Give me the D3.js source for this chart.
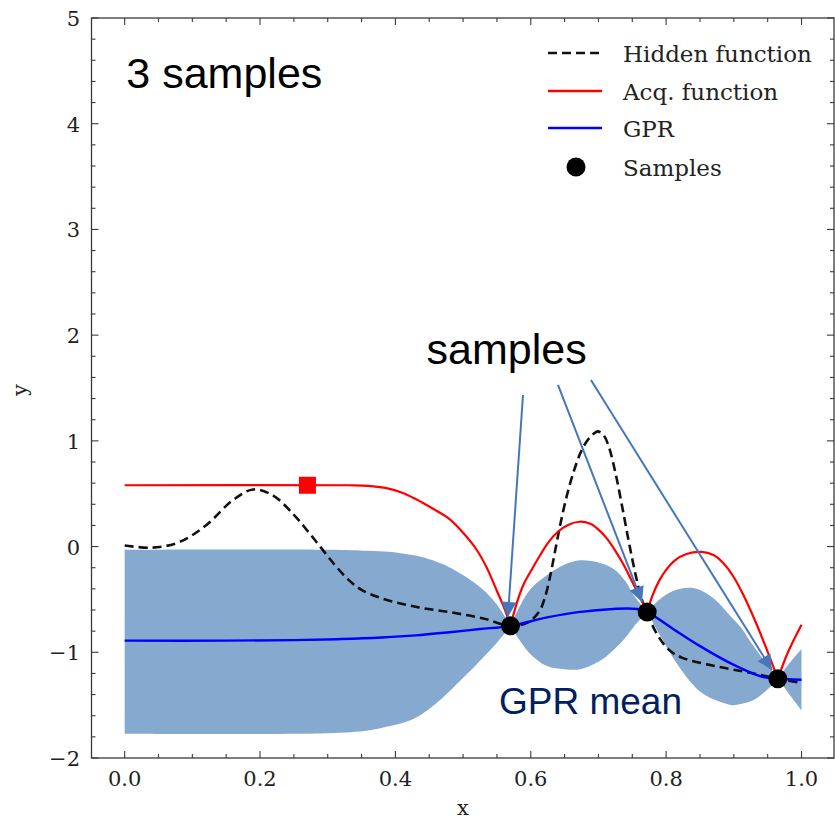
<!DOCTYPE html>
<html><head><meta charset="utf-8">
<script src="https://cdn.jsdelivr.net/npm/d3@7"></script>
<style>body{margin:0;background:#fff}svg{display:block}</style>
</head><body>
<svg id="chart" width="835" height="822"></svg>
<script>
// ---------- data ----------
const sampleX = [0.570, 0.772, 0.965];
const sampleY = [-0.75, -0.62, -1.25];

const hiddenX = [0.0, 0.04, 0.08, 0.12, 0.16, 0.19, 0.22, 0.25, 0.27, 0.29, 0.31, 0.33, 0.35, 0.38, 0.43, 0.48, 0.53, 0.57, 0.595, 0.612, 0.62, 0.628, 0.636, 0.644, 0.654, 0.664, 0.673, 0.682, 0.69, 0.699, 0.708, 0.716, 0.725, 0.735, 0.745, 0.755, 0.764, 0.772, 0.784, 0.803, 0.823, 0.872, 0.921, 0.965, 1.0];
const hiddenY = [0.01, -0.01, 0.04, 0.2, 0.44, 0.54, 0.48, 0.30, 0.15, -0.01, -0.17, -0.31, -0.41, -0.49, -0.57, -0.62, -0.68, -0.75, -0.72, -0.62, -0.5, -0.3, -0.04, 0.22, 0.5, 0.72, 0.88, 0.99, 1.05, 1.09, 1.05, 0.93, 0.70, 0.38, 0.04, -0.27, -0.50, -0.62, -0.80, -0.97, -1.05, -1.13, -1.19, -1.25, -1.29];

const acqX = [0.0, 0.33, 0.36, 0.385, 0.41, 0.43, 0.455, 0.48, 0.50, 0.52, 0.535, 0.55, 0.562, 0.57, 0.58, 0.59, 0.603, 0.614, 0.626, 0.64, 0.655, 0.672, 0.688, 0.70, 0.712, 0.725, 0.737, 0.748, 0.76, 0.772, 0.78, 0.79, 0.80, 0.813, 0.83, 0.852, 0.87, 0.885, 0.90, 0.915, 0.93, 0.946, 0.965, 0.98, 1.0];
const acqY = [0.58, 0.58, 0.575, 0.555, 0.51, 0.45, 0.36, 0.26, 0.13, -0.03, -0.20, -0.42, -0.60, -0.75, -0.52, -0.35, -0.20, -0.08, 0.04, 0.14, 0.205, 0.235, 0.215, 0.16, 0.08, -0.04, -0.17, -0.31, -0.46, -0.62, -0.46, -0.32, -0.22, -0.13, -0.07, -0.05, -0.08, -0.16, -0.29, -0.47, -0.68, -0.93, -1.25, -1.0, -0.74];
const acqNextX = 0.27;
const acqNextY = 0.58;

const gprX = [0.0, 0.15, 0.25, 0.32, 0.38, 0.43, 0.48, 0.525, 0.57, 0.624, 0.67, 0.722, 0.757, 0.772, 0.82, 0.847, 0.897, 0.941, 0.965, 1.0];
const gprY = [-0.89, -0.89, -0.885, -0.875, -0.86, -0.84, -0.81, -0.78, -0.75, -0.67, -0.62, -0.59, -0.59, -0.62, -0.82, -0.93, -1.11, -1.23, -1.25, -1.26];

const bandX     = [0.0, 0.30, 0.36, 0.39, 0.41, 0.43, 0.455, 0.478, 0.505, 0.528, 0.55, 0.57, 0.585, 0.60, 0.624, 0.65, 0.673, 0.70, 0.722, 0.74, 0.752, 0.772, 0.79, 0.81, 0.832, 0.85, 0.872, 0.897, 0.91, 0.93, 0.95, 0.965, 0.98, 1.0];
const bandUpper = [-0.03, -0.03, -0.04, -0.05, -0.065, -0.085, -0.13, -0.19, -0.29, -0.40, -0.55, -0.75, -0.55, -0.40, -0.27, -0.17, -0.13, -0.15, -0.21, -0.33, -0.46, -0.62, -0.50, -0.42, -0.39, -0.41, -0.50, -0.67, -0.76, -0.95, -1.12, -1.25, -1.12, -0.97];
const bandLower = [-1.77, -1.765, -1.74, -1.70, -1.67, -1.62, -1.51, -1.38, -1.21, -1.06, -0.91, -0.75, -0.90, -1.02, -1.13, -1.16, -1.16, -1.09, -0.98, -0.86, -0.76, -0.62, -0.83, -1.05, -1.25, -1.37, -1.45, -1.50, -1.49, -1.45, -1.35, -1.25, -1.38, -1.55];

const xTicks = [0.0, 0.2, 0.4, 0.6, 0.8, 1.0];
const yTicks = [-2, -1, 0, 1, 2, 3, 4, 5];

const legendLabels = ["Hidden function", "Acq. function", "GPR", "Samples"];

// annotations (data coordinates)
const arrowFromX = [0.5885, 0.6402, 0.6889];
const arrowFromY = [1.434, 1.529, 1.576];
const arrowToX   = [0.5662, 0.7644, 0.9563];
const arrowToY   = [-0.666, -0.524, -1.167];

// ---------- layout ----------
const svg = d3.select("#chart");
const x = d3.scaleLinear().domain([-0.049, 1.048]).range([91.5, 834]);
const y = d3.scaleLinear().domain([-2, 5]).range([758, 18]);
const [X0, X1] = x.range();
const [Y0, Y1] = y.range();

const serif = "'DejaVu Serif', serif";
const sans = "'Liberation Sans', Arial, sans-serif";
const frameColor = "#3a3a3a";
const curve = d3.curveCatmullRom.alpha(0.5);

// split a series into pieces at sample x positions (cusp points)
function pieces(xs, cols) {
  const out = []; let cur = [];
  xs.forEach((xv, i) => {
    const p = {x: xv}; cols.forEach((c, k) => p["v" + k] = c[i]);
    cur.push(p);
    if (sampleX.some(s => Math.abs(s - xv) < 1e-9) && i > 0 && i < xs.length - 1) {
      out.push(cur); cur = [p];
    }
  });
  out.push(cur);
  return out;
}

// band
const area = d3.area().x(d => x(d.x)).y0(d => y(d.v1)).y1(d => y(d.v0)).curve(curve);
pieces(bandX, [bandUpper, bandLower]).forEach(seg => {
  svg.append("path").attr("d", area(seg)).attr("fill", "#86aacf").attr("stroke", "none");
});

// hidden function
const line0 = d3.line().x(d => x(d.x)).y(d => y(d.v0)).curve(curve);
svg.append("path").attr("d", line0(hiddenX.map((v, i) => ({x: v, v0: hiddenY[i]}))))
  .attr("fill", "none").attr("stroke", "#111").attr("stroke-width", 2.6)
  .attr("stroke-dasharray", "9,5");

// acquisition function
pieces(acqX, [acqY]).forEach(seg => {
  svg.append("path").attr("d", line0(seg)).attr("fill", "none")
    .attr("stroke", "#ff0000").attr("stroke-width", 2.2).attr("stroke-linejoin", "round");
});

// GPR mean
svg.append("path").attr("d", line0(gprX.map((v, i) => ({x: v, v0: gprY[i]})))).attr("fill", "none")
  .attr("stroke", "#0000ff").attr("stroke-width", 2.4);

// samples
svg.selectAll("circle.s").data(sampleX).join("circle").attr("class", "s")
  .attr("cx", d => x(d)).attr("cy", (d, i) => y(sampleY[i])).attr("r", 9.5).attr("fill", "#000");

// next point (red square)
const sq = 17;
svg.append("rect").attr("x", x(acqNextX) - sq / 2).attr("y", y(acqNextY) - sq / 2)
  .attr("width", sq).attr("height", sq).attr("fill", "#ff0000");

// frame
svg.append("rect").attr("x", X0).attr("y", Y1).attr("width", X1 - X0).attr("height", Y0 - Y1)
  .attr("fill", "none").attr("stroke", frameColor).attr("stroke-width", 1.3);

// ticks (inward, all four sides)
const g = svg.append("g").attr("stroke", frameColor).attr("stroke-width", 1.1);
const xMinor = d3.range(0, 21).map(i => i * 0.05).filter(v => !xTicks.some(t => Math.abs(t - v) < 1e-9));
const yMinor = d3.range(-10, 26).map(i => i * 0.2).filter(v => !yTicks.some(t => Math.abs(t - v) < 1e-9));
function xt(vals, len) {
  vals.forEach(v => {
    g.append("line").attr("x1", x(v)).attr("x2", x(v)).attr("y1", Y0).attr("y2", Y0 - len);
    g.append("line").attr("x1", x(v)).attr("x2", x(v)).attr("y1", Y1).attr("y2", Y1 + len);
  });
}
function yt(vals, len) {
  vals.forEach(v => {
    g.append("line").attr("y1", y(v)).attr("y2", y(v)).attr("x1", X0).attr("x2", X0 + len);
    g.append("line").attr("y1", y(v)).attr("y2", y(v)).attr("x1", X1).attr("x2", X1 - len);
  });
}
xt(xTicks, 7); xt(xMinor, 4); yt(yTicks, 7); yt(yMinor, 4);

// tick labels
const fmtMinus = s => s.replace("-", "\u2212");
svg.selectAll("text.xl").data(xTicks).join("text").attr("class", "xl")
  .attr("x", d => x(d)).attr("y", 786).attr("text-anchor", "middle")
  .attr("font-family", serif).attr("font-size", 21).attr("fill", "#222")
  .text(d => d.toFixed(1));
svg.selectAll("text.yl").data(yTicks).join("text").attr("class", "yl")
  .attr("x", 80).attr("y", d => y(d) + 8).attr("text-anchor", "end")
  .attr("font-family", serif).attr("font-size", 21).attr("fill", "#222")
  .text(d => fmtMinus(String(d)));

// axis labels
svg.append("text").attr("x", 463).attr("y", 815).attr("text-anchor", "middle")
  .attr("font-family", serif).attr("font-size", 21).attr("fill", "#222").text("x");
svg.append("text").attr("transform", "translate(27,390) rotate(-90)").attr("text-anchor", "middle")
  .attr("font-family", serif).attr("font-size", 21).attr("fill", "#222").text("y");

// legend
const lg = svg.append("g");
const rowY = [53, 91, 128, 167];
legendLabels.forEach((t, i) => {
  if (i < 3) {
    const ln = lg.append("line").attr("x1", 548).attr("x2", 602).attr("y1", rowY[i]).attr("y2", rowY[i])
      .attr("stroke", ["#111", "#ff0000", "#0000ff"][i]).attr("stroke-width", 2.4);
    if (i === 0) ln.attr("stroke-dasharray", "9,5").attr("stroke-width", 2.6);
  } else {
    lg.append("circle").attr("cx", 576).attr("cy", rowY[i]).attr("r", 9.5).attr("fill", "#000");
  }
  lg.append("text").attr("x", 623).attr("y", rowY[i] + 8.5).attr("font-family", serif)
    .attr("font-size", 23).attr("fill", "#222").text(t);
});

// annotations
const defs = svg.append("defs");
defs.append("marker").attr("id", "ah").attr("viewBox", "0 0 10 10").attr("refX", 10).attr("refY", 5)
  .attr("markerWidth", 8).attr("markerHeight", 7.5).attr("markerUnits", "strokeWidth")
  .attr("orient", "auto").append("path").attr("d", "M0,0 L10,5 L0,10 Z").attr("fill", "#4677ba");
arrowFromX.forEach((fx, i) => {
  svg.append("line").attr("x1", x(fx)).attr("y1", y(arrowFromY[i]))
    .attr("x2", x(arrowToX[i])).attr("y2", y(arrowToY[i]))
    .attr("stroke", "#4677ba").attr("stroke-width", 2).attr("marker-end", "url(#ah)");
});

svg.append("text").attr("x", x(0.0025)).attr("y", y(4.338)).attr("font-family", sans)
  .attr("font-size", 43).attr("fill", "#000").text("3 samples");
svg.append("text").attr("x", x(0.446)).attr("y", y(1.73)).attr("font-family", sans)
  .attr("font-size", 43).attr("fill", "#000").text("samples");
svg.append("text").attr("x", x(0.553)).attr("y", y(-1.584)).attr("font-family", sans)
  .attr("font-size", 37).attr("fill", "#002060").text("GPR mean");
</script>
</body></html>
